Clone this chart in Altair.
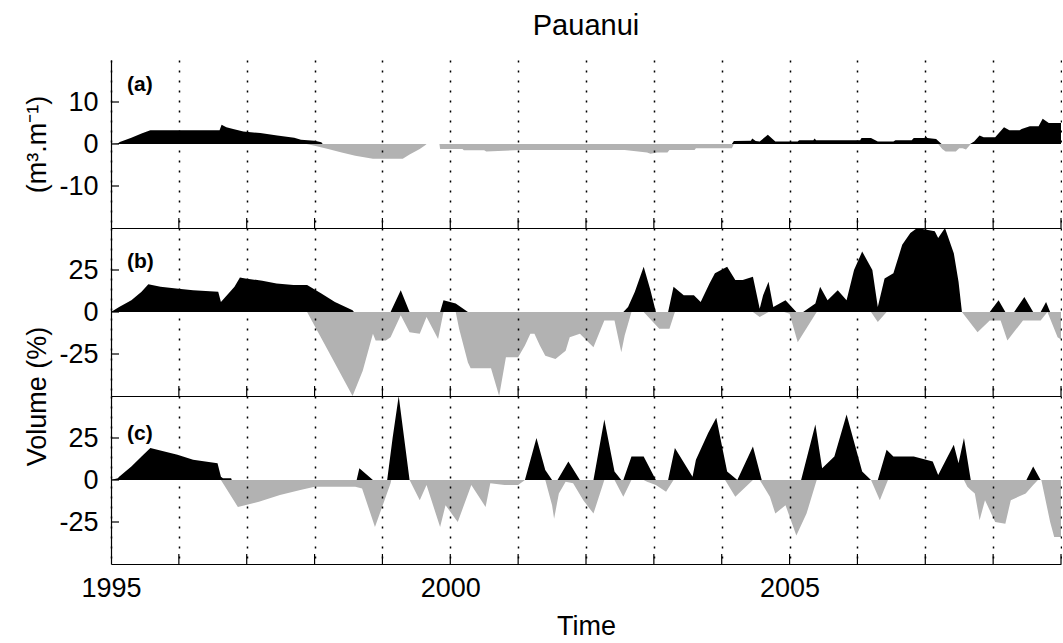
import altair as alt
import pandas as pd

# ---------------- data ----------------
YEAR_TICKS = list(range(1995, 2010))
PANEL_LABELS = ["(a)", "(b)", "(c)"]

# panel (a)  (m3/m)
a_pos_t = [1995.0, 1995.1, 1995.13, 1995.3, 1995.45, 1995.58, 1996.6, 1996.63, 1996.7, 1996.8, 1996.95, 1997.2,
           1997.45, 1997.7, 1997.8, 1998.0, 1998.1, 1998.12,
           2004.15, 2004.18, 2004.43, 2004.45, 2004.5, 2004.56, 2004.68, 2004.79, 2005.12, 2005.14, 2005.35, 2005.37,
           2005.39, 2006.04, 2006.06, 2006.2, 2006.3, 2006.53, 2006.56, 2006.8, 2006.83, 2006.99, 2007.0, 2007.03,
           2007.16, 2007.22, 2007.24,
           2007.66, 2007.72, 2007.8, 2007.86, 2008.03, 2008.16, 2008.24, 2008.39, 2008.42, 2008.54, 2008.67, 2008.73,
           2008.82, 2009.02]
a_pos_v = [0, 0.1, 0.5, 1.5, 2.5, 3.3, 3.3, 4.6, 4.0, 3.6, 3.0, 2.6,
           2.0, 1.5, 1.0, 0.8, 0.4, 0,
           0, 0.7, 0.8, 1.3, 0.7, 0.6, 2.2, 0.6, 0.6, 0.9, 0.9, 1.3,
           0.9, 0.9, 1.4, 1.4, 0.6, 0.6, 0.9, 0.9, 1.4, 1.4, 2.0, 1.4,
           1.2, 0.3, 0,
           0, 0.6, 2.0, 1.6, 1.6, 4.0, 3.3, 3.3, 3.6, 4.2, 4.2, 6.0,
           5.0, 5.0]
a_neg_t = [1997.88, 1998.0, 1998.2, 1998.4, 1998.6, 1998.86, 1999.3, 1999.4, 1999.55, 1999.63, 1999.65,
           1999.84, 1999.85, 2000.18, 2000.2, 2000.5, 2000.53, 2001.04, 2002.57, 2002.9, 2002.95, 2003.05, 2003.2,
           2003.23, 2003.6, 2003.62, 2004.15, 2004.18,
           2007.19, 2007.25, 2007.3, 2007.45, 2007.5, 2007.55, 2007.6, 2007.67]
a_neg_v = [0, -0.4, -1.2, -2.0, -2.8, -3.5, -3.5, -2.5, -1.2, -0.3, 0,
           0, -1.2, -1.2, -1.5, -1.5, -1.8, -1.4, -1.4, -2.0, -2.3, -2.0, -2.0,
           -1.4, -1.4, -1.0, -1.0, 0,
           0, -1.2, -1.8, -1.8, -1.0, -1.0, -1.3, 0]

# panel (b)  Volume (%)
b_pos_t = [1995.0, 1995.12, 1995.3, 1995.45, 1995.55, 1995.73, 1995.96, 1996.21, 1996.58, 1996.62, 1996.82, 1996.9,
           1996.98, 1997.23, 1997.44, 1997.69, 1997.89, 1998.1, 1998.3, 1998.56, 1998.58,
           1999.12, 1999.27, 1999.4,
           1999.85, 1999.9, 2000.08, 2000.26,
           2002.55, 2002.62, 2002.72, 2002.85, 2002.95, 2003.03,
           2003.21, 2003.29, 2003.44, 2003.59, 2003.69, 2003.82, 2003.9, 2004.08, 2004.2, 2004.31, 2004.46, 2004.56,
           2004.61, 2004.69, 2004.76, 2004.94, 2005.1,
           2005.2, 2005.38, 2005.45, 2005.56, 2005.71, 2005.84, 2005.95, 2006.07, 2006.22, 2006.3, 2006.4, 2006.53,
           2006.66, 2006.78, 2006.88, 2007.14, 2007.19, 2007.29, 2007.42, 2007.49, 2007.54,
           2007.95, 2008.08, 2008.18,
           2008.31, 2008.46, 2008.59,
           2008.7, 2008.78, 2008.84]
b_pos_v = [0, 3, 7, 12, 16.5, 15, 14, 13, 12, 6, 15, 20.5,
           20, 18.6, 17, 16, 16, 11, 6, 1, 0,
           0, 13, 0,
           0, 7, 5, 0,
           0, 3, 12, 27, 13, 0,
           0, 15, 10, 10, 6, 17, 23, 27, 19, 19, 21, 2,
           10, 18, 3, 7, 0,
           0, 5, 15, 7, 13, 7, 25, 36, 25, 3, 20, 23,
           40, 47, 50, 48, 44, 50, 35, 18, 0,
           0, 7, 0,
           0, 9, 0,
           0, 6, 0]
b_neg_t = [1997.89, 1998.2, 1998.56, 1998.71, 1998.86, 1998.9, 1999.05, 1999.12, 1999.27, 1999.4, 1999.55, 1999.65,
           1999.82, 1999.9, 2000.08, 2000.13, 2000.26, 2000.3, 2000.6, 2000.72, 2000.82, 2001.0, 2001.1, 2001.18,
           2001.24, 2001.32, 2001.4, 2001.55, 2001.7, 2001.76, 2001.91, 2002.11, 2002.22, 2002.27, 2002.42, 2002.52,
           2002.57, 2002.67,
           2002.85, 2003.08, 2003.23, 2003.31,
           2004.46, 2004.56, 2004.69,
           2004.92, 2005.0, 2005.12, 2005.4,
           2006.2, 2006.3, 2006.43,
           2007.54, 2007.77, 2007.95, 2008.11, 2008.21, 2008.44, 2008.7, 2008.8, 2008.95, 2009.02]
b_neg_v = [0, -23, -50, -35, -13, -17, -17, -15, -2, -12, -13, -3,
           -16, 0, 0, -10, -30, -33.5, -33.5, -50, -27, -27, -20, -13,
           -13, -20, -26, -28, -23, -15, -13, -21, -10, -5, -5, -24,
           -14, 0,
           0, -10, -10, 0,
           0, -3, 0,
           0, -1, -18, 0,
           0, -6, 0,
           0, -12, -5, -5, -17, -5, -5, 0, -15, -17]

# panel (c)  Volume (%)
c_pos_t = [1995.0, 1995.1, 1995.12, 1995.3, 1995.45, 1995.58, 1995.98, 1996.21, 1996.57, 1996.62, 1996.65, 1996.77,
           1996.78,
           1998.62, 1998.66, 1998.86,
           1999.07, 1999.15, 1999.24, 1999.32, 1999.4,
           2001.1, 2001.27, 2001.4, 2001.5,
           2001.58, 2001.74, 2001.91,
           2002.11, 2002.27, 2002.42, 2002.52,
           2002.55, 2002.67, 2002.85, 2003.03,
           2003.21, 2003.31, 2003.57, 2003.62, 2003.8, 2003.92, 2004.08, 2004.23, 2004.46, 2004.59,
           2005.17, 2005.38, 2005.48, 2005.66, 2005.84, 2006.07, 2006.2,
           2006.3, 2006.43, 2006.53, 2006.83, 2007.11, 2007.19, 2007.42, 2007.49, 2007.57, 2007.67,
           2008.49, 2008.59, 2008.7]
c_pos_v = [0, 1, 2, 8, 14, 19, 15, 12, 10, 2, 1, 1,
           0,
           0, 7, 0,
           0, 25, 50, 25, 0,
           0, 25, 6, 0,
           0, 11, 0,
           0, 36, 5, 0,
           0, 14, 14, 0,
           0, 19, 2, 12, 28, 37, 5, 0, 20, 0,
           0, 33, 7, 14, 39, 5, 0,
           0, 18, 14, 14, 11, 3, 21, 10, 25, 0,
           0, 8, 0]
c_neg_t = [1996.62, 1996.87, 1997.18, 1997.49, 1997.79, 1998.0, 1998.6, 1998.7, 1998.89, 1999.12, 1999.13,
           1999.4, 1999.55, 1999.65, 1999.85, 1999.93, 2000.11, 2000.31, 2000.52, 2000.59, 2000.8, 2001.0, 2001.1,
           2001.4, 2001.5, 2001.53, 2001.6, 2001.7, 2001.81, 2001.96, 2002.11, 2002.27,
           2002.42, 2002.55, 2002.67,
           2002.85, 2002.9, 2003.03, 2003.18, 2003.29,
           2004.05, 2004.2, 2004.46,
           2004.56, 2004.71, 2004.79, 2004.94, 2005.1, 2005.25, 2005.4,
           2006.2, 2006.33, 2006.45,
           2007.57, 2007.62, 2007.67, 2007.73, 2007.8, 2007.88, 2008.03, 2008.18, 2008.26, 2008.48, 2008.59, 2008.66,
           2008.71, 2008.84, 2008.9, 2009.02]
c_neg_v = [0, -16, -13, -9, -6, -4, -4, -5, -28, -2, 0,
           0, -12, -3, -28, -15, -25, -3, -16, -2, -3, -3, 0,
           0, -15, -23, -8, -1, -2, -12, -20, 0,
           0, -10, 0,
           0, -1, -3, -7, 0,
           0, -10, 0,
           0, -10, -20, -15, -33, -20, 0,
           0, -12, 0,
           0, -4, -6, -8, -24, -12, -25, -26, -12, -8, -3, 0,
           0, -25, -34, -34]

# ---------------- styling ----------------
W, H = 950, 168
FONT = "Liberation Sans"
X_DOMAIN = [1995, 2009]
GRAY = "#b2b2b2"


def panel(pos_t, pos_v, neg_t, neg_v, ydom, yticks, ytitle, title_y, label, label_y, bottom):
    xscale = alt.Scale(domain=X_DOMAIN, nice=False, zero=False)
    yscale = alt.Scale(domain=ydom, nice=False, zero=False)
    common_x = dict(grid=True, gridColor="black", gridDash=[2, 8], gridWidth=1.5, gridOpacity=1,
                    domain=True, domainColor="black", domainWidth=1.2, ticks=False,
                    values=YEAR_TICKS, zindex=1)
    if bottom:
        xaxis = alt.Axis(title="Time", labels=True, format="d",
                         labelExpr="datum.value % 5 === 0 ? datum.label : ''",
                         labelFontSize=27, labelColor="black", labelPadding=11, labelFlush=False,
                         labelOverlap=False, titleFontSize=27, titleFontWeight="normal",
                         titleColor="black", titlePadding=12, **common_x)
    else:
        xaxis = alt.Axis(title=None, labels=False, **common_x)
    yargs = dict(values=yticks, ticks=False, domain=True, domainColor="black", domainWidth=1.2,
                 grid=False, labelFontSize=27, labelColor="black", labelPadding=13,
                 labelExpr="datum.value + ''")
    if ytitle:
        yaxis = alt.Axis(title=ytitle, titleX=-74, titleY=title_y, titleAngle=270,
                         titleAlign="center", titleBaseline="middle", titleFontSize=27,
                         titleFontWeight="normal", titleColor="black", **yargs)
    else:
        yaxis = alt.Axis(title=None, **yargs)

    X = alt.X("t:Q", scale=xscale, axis=xaxis)
    Y = alt.Y("v:Q", scale=yscale, axis=yaxis)

    neg_df = pd.DataFrame({"t": neg_t, "v": neg_v})
    pos_df = pd.DataFrame({"t": pos_t, "v": pos_v})
    neg = alt.Chart(neg_df).mark_area(color=GRAY, clip=True, interpolate="linear").encode(x=X, y=Y)
    pos = alt.Chart(pos_df).mark_area(color="black", clip=True, interpolate="linear").encode(x=X, y=Y)
    xt = alt.Chart(pd.DataFrame({"t": YEAR_TICKS[1:]})).mark_rule(color="black", strokeWidth=1.2).encode(
        x=X, y=alt.value(H), y2=alt.value(H - 10),
    )
    yt = alt.Chart(pd.DataFrame({"v": yticks})).mark_rule(color="black", strokeWidth=1.2).encode(
        y=Y, x=alt.value(0), x2=alt.value(8),
    )
    lab = alt.Chart(pd.DataFrame({"label": [label]})).mark_text(
        align="left", baseline="middle", fontSize=21, fontWeight="bold", font=FONT, color="black"
    ).encode(x=alt.value(16), y=alt.value(label_y), text="label:N")
    return alt.layer(neg, pos, xt, yt, lab).properties(width=W, height=H)


pa = panel(a_pos_t, a_pos_v, a_neg_t, a_neg_v, [-20, 20], [-10, 0, 10], "(m³.m⁻¹)", H / 2,
           PANEL_LABELS[0], 25, False).properties(
    title=alt.TitleParams("Pauanui", fontSize=29, fontWeight="normal", anchor="middle", frame="group",
                          offset=19, color="black", font=FONT))
pb = panel(b_pos_t, b_pos_v, b_neg_t, b_neg_v, [-50, 50], [-25, 0, 25], "Volume (%)", H,
           PANEL_LABELS[1], 34, False)
pc = panel(c_pos_t, c_pos_v, c_neg_t, c_neg_v, [-50, 50], [-25, 0, 25], None, 0,
           PANEL_LABELS[2], 38, True)

chart = alt.vconcat(pa, pb, pc, spacing=0, bounds="flush").properties(
    padding={"left": 23, "top": 12, "right": 0, "bottom": 0}
).configure(font=FONT).configure_view(stroke=None)

chart.save("out.html", embed_options={"renderer": "svg", "actions": False})
